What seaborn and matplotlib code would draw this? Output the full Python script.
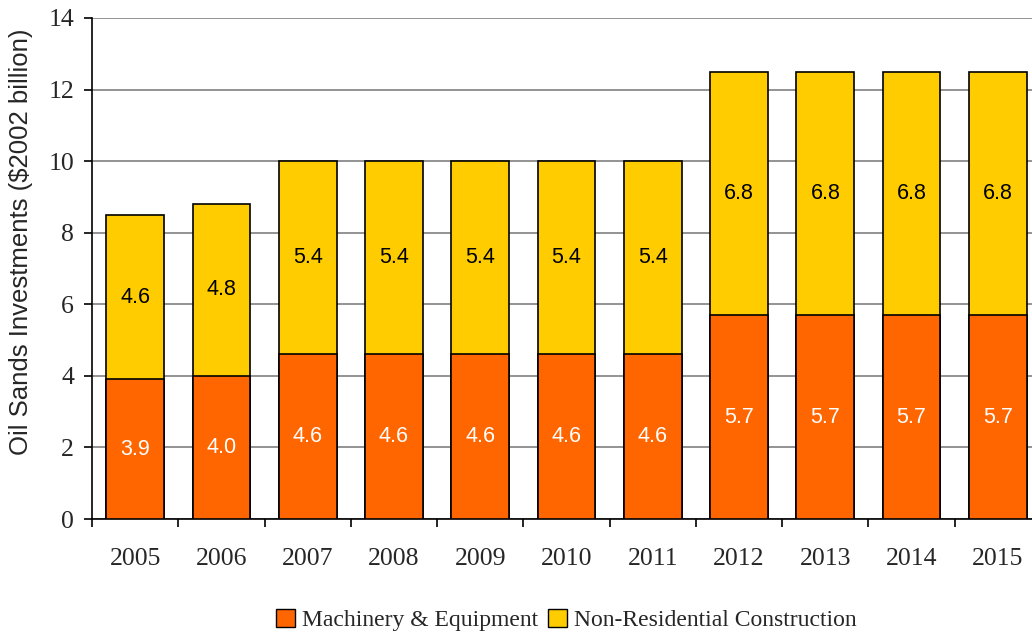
import matplotlib
matplotlib.use("Agg")
import matplotlib.pyplot as plt
import seaborn as sns
import pandas as pd
from matplotlib.patches import Patch

years = ["2005", "2006", "2007", "2008", "2009", "2010", "2011",
         "2012", "2013", "2014", "2015"]
machinery = [3.9, 4.0, 4.6, 4.6, 4.6, 4.6, 4.6, 5.7, 5.7, 5.7, 5.7]
construction = [4.6, 4.8, 5.4, 5.4, 5.4, 5.4, 5.4, 6.8, 6.8, 6.8, 6.8]

df = pd.DataFrame({"year": years, "machinery": machinery, "construction": construction})
df["total"] = df["machinery"] + df["construction"]

orange = "#FF6600"
yellow = "#FFCC00"

sns.set_style("white")
plt.rcParams["font.family"] = ["Liberation Serif", "DejaVu Serif"]

fig = plt.figure(figsize=(10.32, 6.35), dpi=100)
ax = fig.add_axes([92 / 1032, 1 - 519 / 635, 949 / 1032, 501 / 635])

# stacked bars: totals first (yellow), then machinery on top (orange)
sns.barplot(data=df, x="year", y="total", color=yellow, width=0.67,
            edgecolor="black", linewidth=1.2, saturation=1, ax=ax, zorder=3)
sns.barplot(data=df, x="year", y="machinery", color=orange, width=0.67,
            edgecolor="black", linewidth=1.2, saturation=1, ax=ax, zorder=3)

# value labels
for i, (m, c) in enumerate(zip(machinery, construction)):
    ax.text(i, m / 2, f"{m:.1f}", ha="center", va="center", color="white",
            fontsize=15.5, family="Liberation Sans", zorder=5)
    ax.text(i, m + c / 2, f"{c:.1f}", ha="center", va="center", color="black",
            fontsize=15.5, family="Liberation Sans", zorder=5)

ax.set_ylim(0, 14)
ax.set_yticks(range(0, 15, 2))
ax.set_xlim(-0.5, len(years) - 0.5)
ax.yaxis.grid(True, color="#808080", linewidth=1.2, zorder=0)
ax.set_axisbelow(True)

for side in ["top", "right"]:
    ax.spines[side].set_visible(False)
ax.spines["left"].set_color("black")
ax.spines["bottom"].set_color("black")
ax.spines["left"].set_linewidth(1.2)
ax.spines["bottom"].set_linewidth(1.2)

# x ticks sit between the categories
ax.set_xticks([i - 0.5 for i in range(len(years) + 1)], minor=True)
ax.tick_params(axis="x", which="minor", length=6, width=1.2, color="black", direction="out", bottom=True)
ax.tick_params(axis="x", which="major", length=0, labelsize=18.5, pad=21)
ax.tick_params(axis="y", which="major", length=6, width=1.2, color="black", direction="out",
               left=True, labelsize=18.5, pad=7)

ax.set_xlabel("")
ax.set_ylabel("Oil Sands Investments ($2002 billion)", family="Liberation Sans",
              fontsize=18.5)
ax.yaxis.set_label_coords(-59 / 949, (519 - 242) / 501)

handles = [Patch(facecolor=orange, edgecolor="black", label="Machinery & Equipment"),
           Patch(facecolor=yellow, edgecolor="black", label="Non-Residential Construction")]
fig.legend(handles=handles, loc="center", bbox_to_anchor=(0.549, 1 - 620 / 635),
           ncol=2, frameon=False, fontsize=17, handlelength=0.8, handleheight=0.8,
           handletextpad=0.3, columnspacing=0.4)

fig.savefig("out.png", dpi=100)
